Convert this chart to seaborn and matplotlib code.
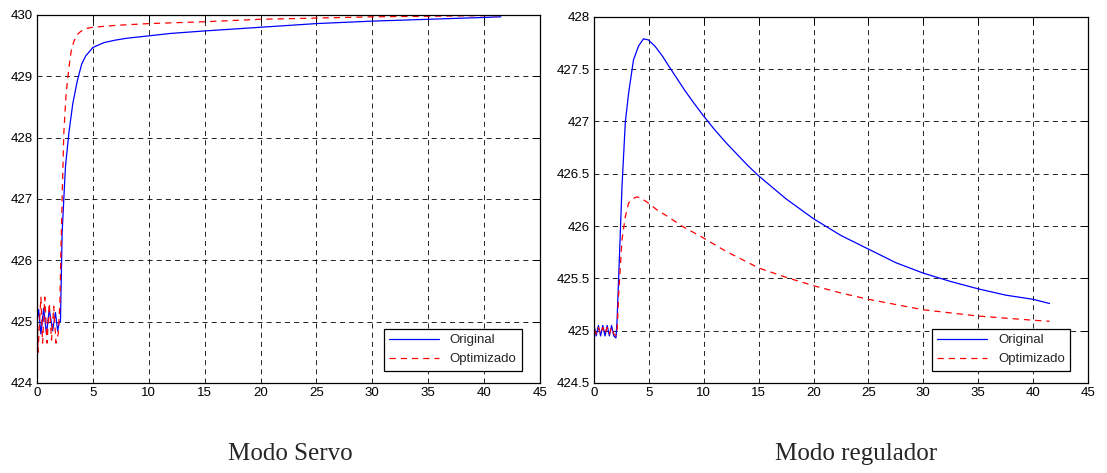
import matplotlib
matplotlib.use("Agg")
import matplotlib.pyplot as plt
import seaborn as sns
import pandas as pd

# Modo Servo
t_servo_orig = [0, 0.15, 0.35, 0.6, 0.85, 1.1, 1.4, 1.65, 1.85, 2.0, 2.1,
                2.25, 2.4, 2.55, 2.85, 3.2, 3.6, 4.0, 4.35, 5.0,
                6, 7, 8, 10, 12, 15, 20, 25, 30, 35, 40, 41.5]
servo_orig = [425.0, 425.2, 424.8, 425.22, 424.8, 425.2, 424.85, 425.15, 424.85, 425.0, 425.0,
              426.45, 427.0, 427.53, 428.07, 428.55, 428.92, 429.2, 429.33, 429.47,
              429.55, 429.59, 429.62, 429.66, 429.7, 429.74, 429.8, 429.86, 429.9, 429.93, 429.96, 429.97]

t_servo_opt = [0, 0.1, 0.2, 0.35, 0.5, 0.7, 0.9, 1.1, 1.3, 1.5, 1.7, 1.9, 2.05,
               2.15, 2.25, 2.4, 2.6, 2.85, 3.05, 3.3, 3.6, 3.9, 4.35,
               5.0, 7.0, 10, 15, 20, 25, 30, 35, 40, 41.5]
servo_opt = [425.25, 424.5, 424.9, 425.4, 424.65, 425.4, 424.65, 425.3, 424.7, 425.25, 424.65, 424.8, 425.3,
             426.2, 427.0, 428.07, 428.7, 429.13, 429.4, 429.57, 429.68, 429.73, 429.78,
             429.8, 429.83, 429.86, 429.89, 429.93, 429.95, 429.97, 429.98, 429.99, 429.99]

# Modo regulador
t_reg_orig = [0, 0.2, 0.4, 0.6, 0.8, 1.0, 1.2, 1.4, 1.6, 1.8, 2.0,
              2.1, 2.25, 2.55, 2.85, 3.15, 3.6, 4.05, 4.5, 4.95,
              5.55, 6.2, 6.75, 7.5, 8.25, 9, 10, 11, 12, 13, 14, 15,
              17.5, 20, 22.5, 25, 27.5, 30, 32.5, 35, 37.5, 40, 41.5]
reg_orig = [425.05, 424.95, 425.05, 424.95, 425.05, 424.95, 425.05, 424.95, 425.05, 424.95, 424.93,
            425.1, 425.52, 426.38, 426.99, 427.27, 427.59, 427.72, 427.79, 427.78,
            427.72, 427.63, 427.54, 427.42, 427.3, 427.19, 427.05, 426.92, 426.8, 426.69, 426.58, 426.48,
            426.26, 426.07, 425.91, 425.78, 425.65, 425.55, 425.47, 425.4, 425.34, 425.3, 425.26]

t_reg_opt = [0, 0.2, 0.4, 0.6, 0.8, 1.0, 1.2, 1.4, 1.6, 1.8, 2.0,
             2.1, 2.25, 2.55, 2.85, 3.15, 3.5, 3.9, 4.4, 4.95,
             5.8, 6.75, 8, 9.75, 12, 15, 17.5, 20, 22.5, 25, 27.5, 30, 32.5, 35, 37.5, 40, 41.5]
reg_opt = [425.02, 424.97, 425.03, 424.97, 425.03, 424.97, 425.03, 424.97, 425.03, 424.97, 424.95,
           425.0, 425.36, 425.87, 426.09, 426.22, 426.26, 426.28, 426.26, 426.22,
           426.15, 426.09, 426.0, 425.9, 425.76, 425.6, 425.51, 425.43, 425.36, 425.3, 425.25, 425.2,
           425.17, 425.14, 425.12, 425.1, 425.09]

x_ticks = list(range(0, 50, 5))
servo_yticks = [424, 425, 426, 427, 428, 429, 430]
reg_yticks = [424.5, 425, 425.5, 426, 426.5, 427, 427.5, 428]
reg_ytick_labels = ["424.5", "425", "425.5", "426", "426.5", "427", "427.5", "428"]
captions = ["Modo Servo", "Modo regulador"]
labels = ["Original", "Optimizado"]

sns.set_style("white")
plt.rcParams['font.family'] = ['Liberation Sans', 'DejaVu Sans']

fig = plt.figure(figsize=(11.07, 4.73), dpi=100)
ax1 = fig.add_axes([0.0334, 0.1903, 0.4544, 0.778])
ax2 = fig.add_axes([0.5366, 0.1903, 0.4462, 0.774])


def draw(ax, t1, y1, t2, y2, yticks, ylabels):
    d1 = pd.DataFrame({"t": t1, "v": y1})
    d2 = pd.DataFrame({"t": t2, "v": y2})
    sns.lineplot(data=d1, x="t", y="v", color="blue", lw=0.9, label=labels[0], ax=ax)
    sns.lineplot(data=d2, x="t", y="v", color="red", lw=0.9, ls=(0, (5, 4)), label=labels[1], ax=ax)
    ax.set_xlim(0, 45)
    ax.set_ylim(yticks[0], yticks[-1])
    ax.set_xticks(x_ticks)
    ax.set_yticks(yticks)
    ax.set_yticklabels(ylabels)
    ax.set_xlabel("")
    ax.set_ylabel("")
    ax.grid(True, color="black", linestyle=(0, (6, 5)), linewidth=0.6)
    ax.tick_params(direction="in", top=True, right=True, length=5, width=0.7,
                   labelsize=9.5, pad=3, colors="black")
    for s in ax.spines.values():
        s.set_color("black")
        s.set_linewidth(0.9)
    leg = ax.legend(loc="lower right", bbox_to_anchor=(0.977, 0.016), fontsize=9.5,
                    fancybox=False, framealpha=1, edgecolor="black",
                    handlelength=3.8, borderpad=0.4, labelspacing=0.5)
    leg.get_frame().set_linewidth(0.9)


draw(ax1, t_servo_orig, servo_orig, t_servo_opt, servo_opt, servo_yticks,
     [str(v) for v in servo_yticks])
draw(ax2, t_reg_orig, reg_orig, t_reg_opt, reg_opt, reg_yticks, reg_ytick_labels)

fig.text(0.262, 0.028, captions[0], family="Liberation Serif", fontsize=18, ha="center")
fig.text(0.773, 0.028, captions[1], family="Liberation Serif", fontsize=18, ha="center")

fig.savefig("out.png", dpi=100)
